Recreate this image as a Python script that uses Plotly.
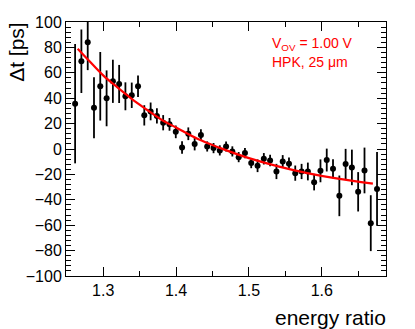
import plotly.graph_objects as go

# measured points
energy_ratio = [1.2615, 1.2701, 1.2788, 1.2874, 1.2960, 1.3047, 1.3133, 1.3219,
                1.3305, 1.3392, 1.3478, 1.3564, 1.3651, 1.3737, 1.3823, 1.3910,
                1.3996, 1.4082, 1.4168, 1.4255, 1.4341, 1.4427, 1.4514, 1.4600,
                1.4686, 1.4772, 1.4859, 1.4945, 1.5031, 1.5118, 1.5204, 1.5290,
                1.5377, 1.5463, 1.5549, 1.5635, 1.5722, 1.5808, 1.5894, 1.5981,
                1.6067, 1.6153, 1.6240, 1.6326, 1.6412, 1.6498, 1.6585, 1.6671,
                1.6757]
delta_t = [35.7, 69.1, 84.1, 32.5, 49.4, 39.9, 53.3, 51.2, 41.5, 42.3,
           49.4, 26.5, 29.6, 26.0, 20.7, 19.4, 13.5, 1.2, 12.0, 3.9,
           11.0, 2.0, 0.7, -1.1, 2.0, -1.9, -6.4, -3.2, -11.1, -13.2,
           -7.7, -9.0, -17.7, -9.8, -11.6, -19.0, -17.7, -17.7, -26.1, -17.2,
           -8.7, -15.6, -36.9, -11.9, -14.5, -33.7, -16.9, -58.4, -31.4]
delta_t_err = [47, 25, 22, 24, 27, 22, 17, 15, 11, 10,
               8.5, 8, 7, 6, 6, 5, 5, 5, 5, 5,
               4.5, 4, 4, 4, 4, 4, 4, 4, 4, 5,
               4.5, 4.5, 6, 5, 5, 6, 6, 7, 6.5, 9,
               9, 7.5, 16, 12, 14, 15.5, 18, 22, 29]

# fit curve
fit_x = [1.265, 1.28, 1.30, 1.32, 1.34, 1.36, 1.38, 1.40, 1.43, 1.46,
         1.50, 1.54, 1.58, 1.62, 1.67]
fit_y = [79.0, 69.9, 58.0, 48.3, 39.1, 30.9, 23.0, 16.9, 7.8, 0.9,
         -7.2, -13.7, -19.0, -23.2, -27.3]

FONT = "Liberation Sans, Arial, Helvetica, sans-serif"

fig = go.Figure()

fig.add_trace(go.Scatter(
    x=energy_ratio,
    y=delta_t,
    mode="markers",
    marker=dict(color="black", size=6),
    error_y=dict(type="data", array=delta_t_err, color="black",
                 thickness=1.8, width=0),
    showlegend=False,
))

fig.add_trace(go.Scatter(
    x=fit_x,
    y=fit_y,
    mode="lines",
    line=dict(color="#ff0000", width=2.2, shape="spline"),
    showlegend=False,
))

axis_common = dict(
    showgrid=False, zeroline=False, automargin=False,
    showline=True, linecolor="black", linewidth=1,
    mirror="allticks", ticks="inside", tickcolor="black",
    tickfont=dict(family=FONT, size=16, color="black"),
)

fig.update_xaxes(
    range=[1.249, 1.688],
    dtick=0.1, tick0=1.3, ticklen=9, tickwidth=1,
    minor=dict(ticks="inside", dtick=0.05, ticklen=5, tickcolor="black"),
    **axis_common,
)
fig.update_yaxes(
    range=[-100, 100],
    dtick=20, ticklen=9, tickwidth=1,
    minor=dict(ticks="inside", dtick=4, ticklen=5, tickcolor="black"),
    **axis_common,
)

# axis titles (ROOT style, aligned at the axis end)
fig.add_annotation(
    text="Δt [ps]", xref="paper", yref="paper",
    x=-0.155, y=1.01, xanchor="center", yanchor="top",
    textangle=-90, showarrow=False,
    font=dict(family=FONT, size=21, color="black"),
)
fig.add_annotation(
    text="energy ratio", xref="paper", yref="paper",
    x=1.006, y=-0.163, xanchor="right", yanchor="middle",
    showarrow=False,
    font=dict(family=FONT, size=21, color="black"),
)

# legend text
fig.add_annotation(
    text="V<sub>OV</sub> = 1.00 V", xref="paper", yref="paper",
    x=0.6375, y=0.915, xanchor="left", yanchor="middle",
    showarrow=False,
    font=dict(family=FONT, size=14, color="#ff0000"),
)
fig.add_annotation(
    text="HPK, 25 μm", xref="paper", yref="paper",
    x=0.6375, y=0.842, xanchor="left", yanchor="middle",
    showarrow=False,
    font=dict(family=FONT, size=14, color="#ff0000"),
)

# the page body adds an 8 px margin, so the figure is shifted by that much
fig.update_layout(
    width=407, height=321,
    margin=dict(l=58, r=29, t=14, b=53),
    paper_bgcolor="white", plot_bgcolor="white",
    showlegend=False,
)

fig.write_html("out.html")
